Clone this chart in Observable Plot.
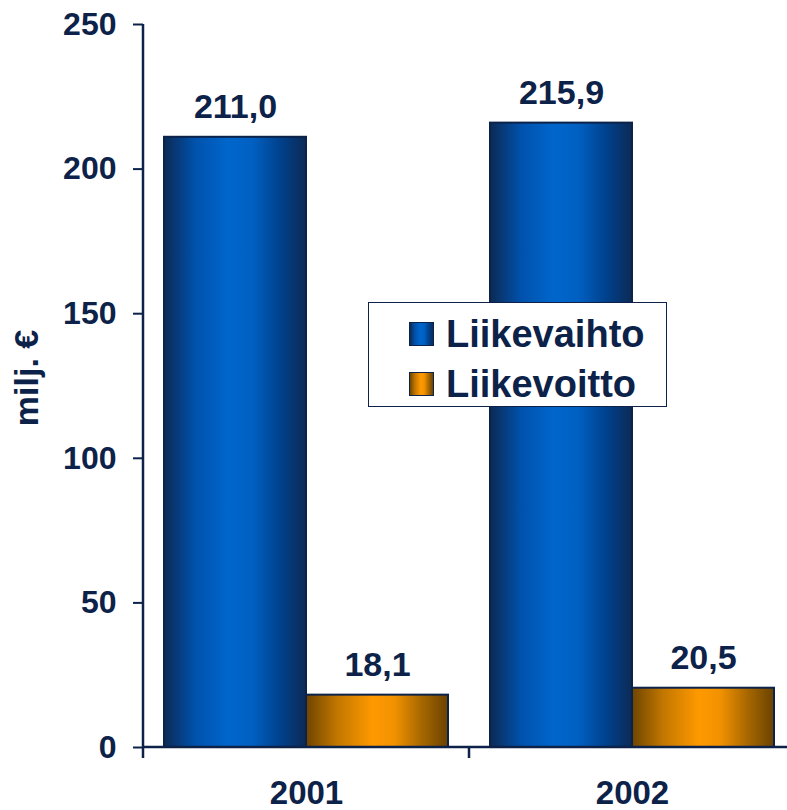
<!DOCTYPE html>
<html>
<head>
<meta charset="utf-8">
<script src="https://cdn.jsdelivr.net/npm/d3@7"></script>
<script src="https://cdn.jsdelivr.net/npm/@observablehq/plot@0.6"></script>
<style>
  html, body { margin: 0; padding: 0; background: #fff; overflow: hidden; }
  #wrap { position: relative; width: 787px; height: 810px; overflow: hidden; }
  #chart svg { max-width: none !important; }
  #legend {
    position: absolute; left: 368px; top: 302px; width: 297px; height: 103px;
    background: #fff; border: 1.5px solid #0c2248;
    font-family: "Liberation Sans", Arial, sans-serif; font-weight: bold; font-size: 38px; color: #0c2248;
  }
  .row { position: absolute; left: 40px; display: flex; align-items: center; height: 40px; }
  .sw { width: 23px; height: 22px; border: 1.5px solid #0c2248; margin-right: 12px; }
</style>
</head>
<body>
<svg width="0" height="0" style="position:absolute">
  <defs>
    <linearGradient id="gBlue" x1="0" y1="0" x2="1" y2="0">
      <stop offset="0" stop-color="#0c2a55"/>
      <stop offset="0.22" stop-color="#0052ac"/>
      <stop offset="0.45" stop-color="#0066cc"/>
      <stop offset="0.62" stop-color="#0060c2"/>
      <stop offset="0.82" stop-color="#00418c"/>
      <stop offset="1" stop-color="#0c2a55"/>
    </linearGradient>
    <linearGradient id="gOrange" x1="0" y1="0" x2="1" y2="0">
      <stop offset="0" stop-color="#6e4500"/>
      <stop offset="0.22" stop-color="#c27700"/>
      <stop offset="0.47" stop-color="#ff9900"/>
      <stop offset="0.62" stop-color="#f29200"/>
      <stop offset="0.82" stop-color="#a56600"/>
      <stop offset="1" stop-color="#6a4200"/>
    </linearGradient>
  </defs>
</svg>
<div id="wrap">
  <div id="chart"></div>
  <div id="legend">
    <div class="row" style="top:11px"><div class="sw" style="background:linear-gradient(90deg,#0c2a55,#0052ac 22%,#0066cc 45%,#0060c2 62%,#00418c 82%,#0c2a55)"></div><span>Liikevaihto</span></div>
    <div class="row" style="top:61px"><div class="sw" style="background:linear-gradient(90deg,#6e4500,#c27700 22%,#ff9900 47%,#f29200 62%,#a56600 82%,#6a4200)"></div><span>Liikevoitto</span></div>
  </div>
</div>
<script>
const years = ["2001", "2002"];
const series = ["Liikevaihto", "Liikevoitto"];
const liikevaihto = [211.0, 215.9];
const liikevoitto = [18.1, 20.5];
const yTicks = [0, 50, 100, 150, 200, 250];
const yLabel = "milj. €";

const NAVY = "#0c2248";
const FONT = "'Liberation Sans', Arial, sans-serif";

const data = [];
years.forEach((yr, i) => {
  data.push({year: yr, series: series[0], value: liikevaihto[i]});
  data.push({year: yr, series: series[1], value: liikevoitto[i]});
});
const fmt = v => v.toFixed(1).replace(".", ",");
const frames = years.map(y => ({year: y}));

const chart = Plot.plot({
  width: 795,
  height: 810,
  marginLeft: 143,
  marginRight: 0,
  marginTop: 24,
  marginBottom: 63,
  style: {fontFamily: FONT, color: NAVY, background: "transparent", overflow: "visible", maxWidth: "none"},
  fx: {domain: years, padding: 0, label: null},
  x: {domain: series, paddingInner: 0, paddingOuter: 0.14, axis: null},
  y: {domain: [0, 250], label: null},
  marks: [
    Plot.barY(data.filter(d => d.series === series[0]), {fx: "year", x: "series", y: "value", fill: "url(#gBlue)", stroke: NAVY, strokeWidth: 2}),
    Plot.barY(data.filter(d => d.series === series[1]), {fx: "year", x: "series", y: "value", fill: "url(#gOrange)", stroke: NAVY, strokeWidth: 2}),
    Plot.text(data, {fx: "year", x: "series", y: "value", text: d => fmt(d.value), lineAnchor: "bottom", dy: -19, fontSize: 34, fontWeight: "bold", fill: NAVY}),
    Plot.ruleY(frames, {fx: "year", y: () => 0, render: (I, scales, values, dims) => {
      const g = d3.create("svg:g").attr("stroke", NAVY).attr("stroke-width", 2.5).attr("fill", "none");
      const y0 = scales.y(0);
      const left = dims.marginLeft, right = dims.width - dims.marginRight;
      for (const i of I) {
        g.append("line").attr("x1", left).attr("x2", right).attr("y1", y0).attr("y2", y0);
        g.append("line").attr("x1", left).attr("x2", left).attr("y1", y0).attr("y2", y0 + 11);
        if (frames[i].year === years[0]) {
          g.append("line").attr("x1", left).attr("x2", left).attr("y1", scales.y(250)).attr("y2", y0);
        }
      }
      return g.node();
    }}),
    Plot.axisY(yTicks, {tickSize: 10, tickPadding: 17, fontSize: 32, fontWeight: "bold", stroke: NAVY, strokeWidth: 2, fill: NAVY, label: null}),
    Plot.axisFx({anchor: "bottom", tickSize: 0, tickPadding: 33, fontSize: 33, fontWeight: "bold", fill: NAVY, label: null}),
    Plot.text([yLabel], {facet: "super", frameAnchor: "left", text: d => d, rotate: -90, dx: -116, dy: -8, fontSize: 34, fontWeight: "bold", fill: NAVY, textAnchor: "middle", lineAnchor: "middle"})
  ]
});
document.getElementById("chart").appendChild(chart);
</script>
</body>
</html>
